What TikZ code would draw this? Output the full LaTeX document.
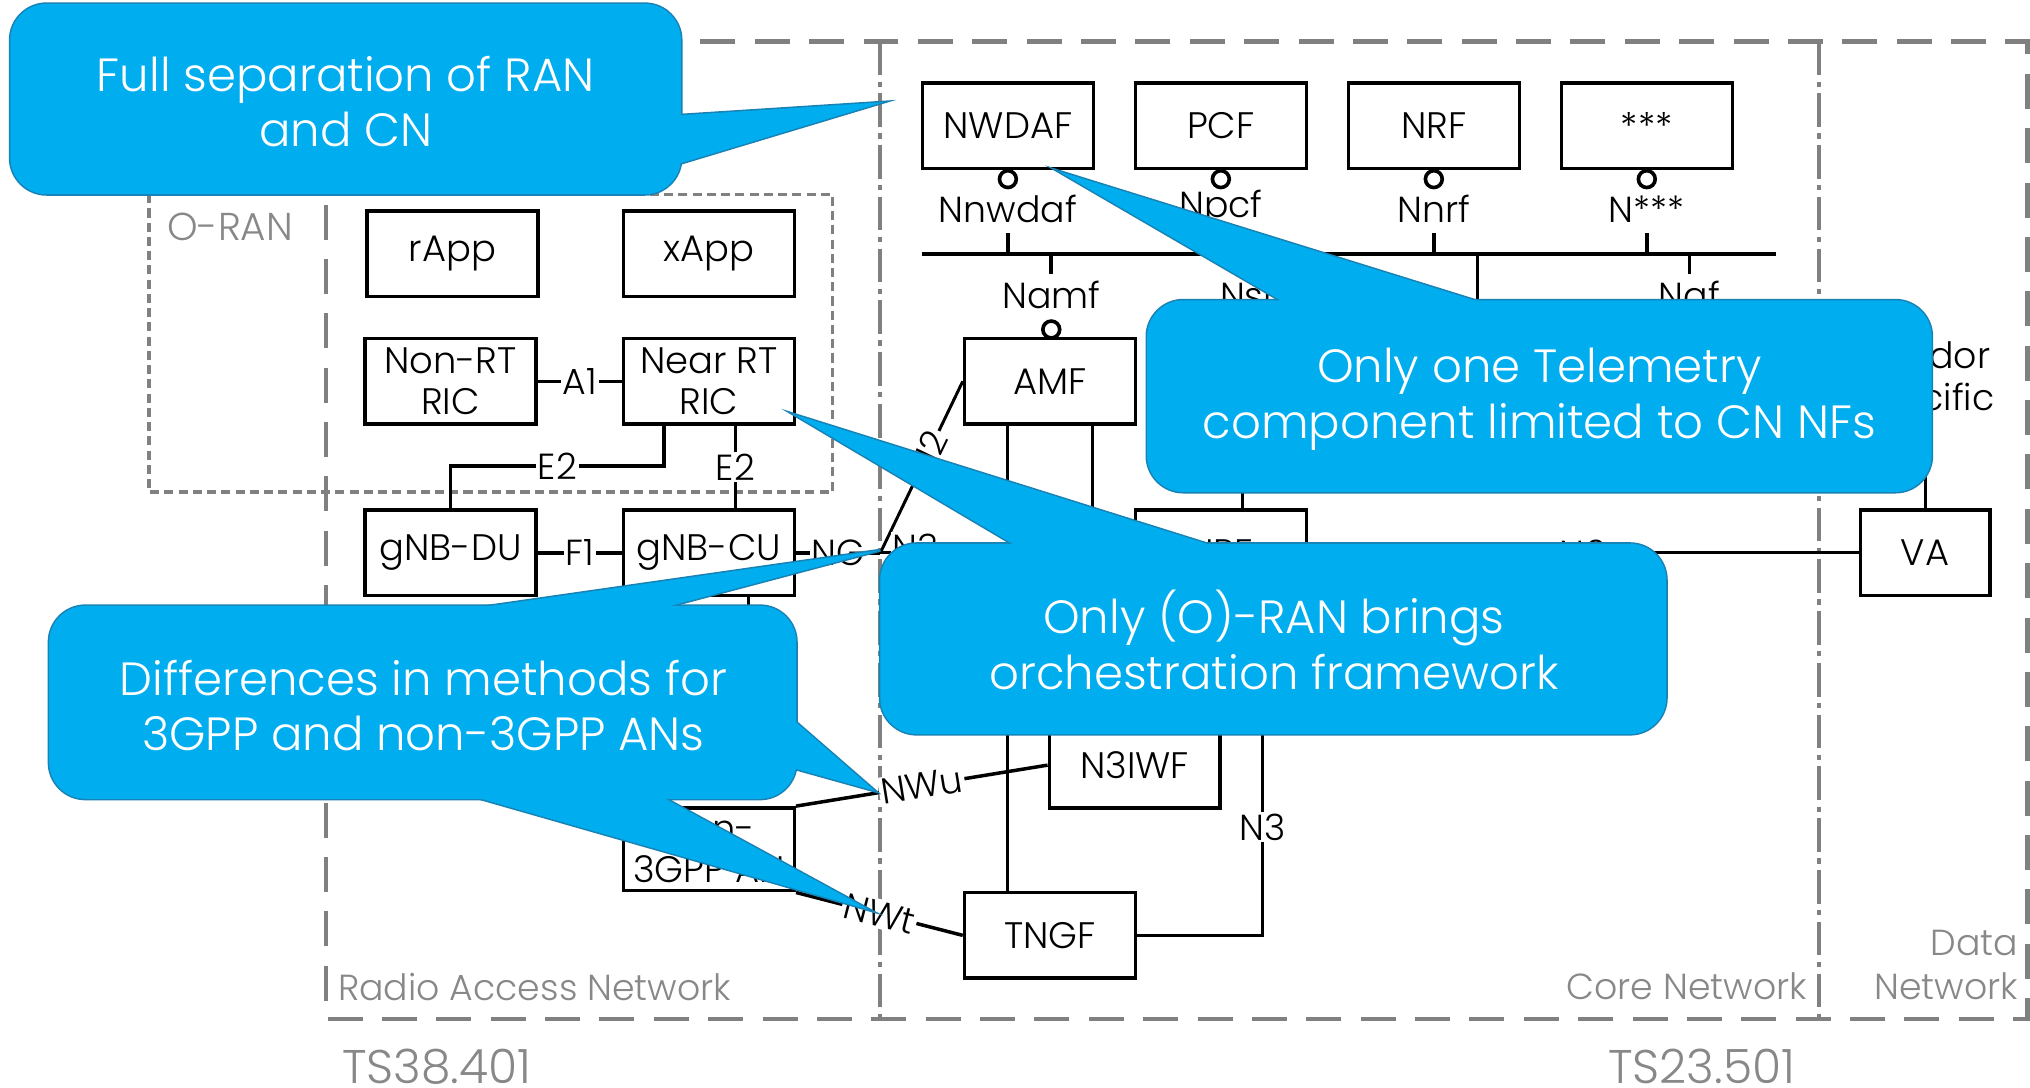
\documentclass[tikz,border=0pt]{standalone}
\usepackage{fontspec}
\setmainfont{Poppins Light}
\usetikzlibrary{calc}
\definecolor{callfill}{RGB}{0,173,239}
\definecolor{calledge}{RGB}{25,130,180}
\definecolor{framegray}{RGB}{128,128,128}
\definecolor{textgray}{RGB}{136,136,136}
\newcommand{\setfs}[2]{\fontsize{#1}{#2}\selectfont}
\begin{document}
\begin{tikzpicture}[x=1pt,y=-1pt,
  nf/.style={draw, line width=2.7pt, minimum width=132pt, minimum height=66pt, inner sep=0pt, align=center, fill=white, font=\setfs{28.5}{32}},
  lbl/.style={fill=white, inner sep=1.5pt, font=\setfs{28}{32}},
  ifl/.style={inner sep=1pt, align=center, font=\setfs{28}{32}},
  conn/.style={line width=2.7pt},
  thinconn/.style={line width=2.3pt},
  busline/.style={line width=3.4pt},
  tickline/.style={line width=2.8pt},
  lolly/.style={line width=2.8pt, fill=white},
  frameline/.style={draw=framegray, line width=3.3pt, dash pattern=on 27pt off 15pt},
  sepline/.style={draw=framegray, line width=3pt, dash pattern=on 26pt off 5pt on 4pt off 5pt},
  oranline/.style={draw=framegray, line width=2.6pt, dash pattern=on 7pt off 4pt},
  glbl/.style={text=textgray, inner sep=0pt, font=\setfs{28}{34}},
  tslbl/.style={text=textgray, inner sep=0pt, font=\setfs{36.5}{44}},
  cedge/.style={draw=calledge, line width=2.4pt, line join=miter},
  cfill/.style={fill=callfill},
  ctext/.style={text=white, align=center, font=\setfs{36}{43}}
]
\fill[white] (0,0) rectangle (1568,840);
\useasboundingbox (0,0) rectangle (1568,840);

% ---- domain frames ----
\draw[frameline] (252,32) rectangle (1566,787);
\draw[sepline] (680,32) -- (680,787);
\draw[sepline] (1405,32) -- (1405,787);
\draw[oranline] (115,150) rectangle (643,380);

\node[glbl, anchor=west, font=\setfs{30}{34}] (oranlbl) at (129,175) {O-RAN};
\node[glbl, anchor=west] (ranlbl) at (261,762) {Radio Access Network};
\node[glbl, anchor=east] (cnlbl) at (1396,762) {Core Network};
\node[glbl, anchor=east, align=right] (dnlbl) at (1559,745) {Data\\Network};
\node[tslbl, anchor=west] (ts1) at (264,824) {TS38.401};
\node[tslbl, anchor=west] (ts2) at (1242,824) {TS23.501};

% ---- network functions ----
\node[nf] (rapp) at (349.5,196) {rApp};
\node[nf] (xapp) at (547.5,196) {xApp};
\node[nf] (nonrt) at (348,294.5) {Non-RT\\RIC};
\node[nf] (nearrt) at (547.5,294.5) {Near RT\\RIC};
\node[nf] (du) at (348,427) {gNB-DU};
\node[nf] (cu) at (547.5,427) {gNB-CU};
\node[nf, minimum height=64pt] (n3gpp) at (547.5,656) {Non-\\3GPP AN};
\node[nf] (nwdaf) at (778.5,97) {NWDAF};
\node[nf] (pcf) at (943,97) {PCF};
\node[nf] (nrf) at (1107.5,97) {NRF};
\node[nf] (oth) at (1272,97) {***};
\node[nf] (amf) at (811,294.5) {AMF};
\node[nf] (upf) at (943,427) {UPF};
\node[nf] (n3iwf) at (876.5,591) {N3IWF};
\node[nf] (tngf) at (811,722.5) {TNGF};
\node[nf, minimum width=100pt] (va) at (1487,427) {VA};

% ---- service based bus ----
\coordinate (busL) at (712,196);
\coordinate (busR) at (1372,196);
\draw[busline] (busL) -- (busR);

\foreach \nfn/\lab in {nwdaf/Nnwdaf, pcf/Npcf, nrf/Nnrf, oth/N***}{
  \draw[lolly] ($(\nfn.south)+(0,7)$) circle (6.5pt);
  \node[ifl] (i\nfn) at ($(\nfn.south)+(0,30)$) {\lab};
  \draw[tickline] (i\nfn.south |- 0,180) -- (i\nfn.south |- busL);
}
\node[ifl] (iamf) at (812,228) {Namf};
\draw[tickline] (iamf.north |- busL) -- (iamf.north |- 0,212);
\draw[lolly] (812,254.5) circle (6.5pt);
\node[ifl] (ismf) at (978,228) {Nsmf};
\draw[tickline] (ismf.north |- busL) -- (ismf.north |- 0,212);
\node[ifl] (iaf) at (1305,228) {Naf};
\draw[tickline] (iaf.north |- busL) -- (iaf.north |- 0,212);

% ---- RAN interfaces ----
\draw[conn] (nonrt) -- node[lbl] {A1} (nearrt);
\draw[conn] (du) -- node[lbl] {F1} (cu);
\draw[conn] (nearrt.south -| 513,0) |- node[lbl, pos=0.75] {E2} (du.north |- 0,360) -- (du.north);
\draw[conn] (nearrt.south -| 568,0) -- node[lbl] {E2} (cu.north -| 568,0);
\draw[conn] (cu.south -| 578,0) -- (578,540);

\coordinate (ngj) at (680,427);
\draw[conn] (cu) -- node[lbl] {NG} (ngj);
\draw[thinconn] (ngj) -- node[lbl, sloped, pos=0.58] {N2} (amf.west);
\draw[thinconn] (ngj) -- node[lbl, pos=0.14, yshift=4pt] {N3} (upf);

% ---- core interfaces ----
\draw[thinconn] (amf.south -| 778,0) -- (tngf.north -| 778,0);
\draw[thinconn] (amf.south -| 844,0) -- (n3iwf.north -| 844,0);
\draw[thinconn] (tngf.east) -| node[lbl, pos=0.66] {N3} (upf.south -| 975,0);
\coordinate (smfs) at (960,330);
\draw[thinconn] (smfs) -- (upf.north -| smfs);
\draw[thinconn] (upf) -- node[lbl] {N6} (va);

\coordinate (busv) at (1141,196);
\node[ifl, fill=white] (vsp) at (1487,294) {Vendor\\specific};
\draw[thinconn] (busv) |- (vsp.west);
\draw[thinconn] (vsp) -- (va);

\draw[conn] (n3gpp.north east) -- node[lbl, sloped] {NWu} (n3iwf.west);
\draw[conn] (n3gpp.south east) -- node[lbl, sloped] {NWt} (tngf.west);

% ---- callouts ----
% 1: separation of RAN and CN
\coordinate (t1) at (682,79);
\draw[cedge, rounded corners=28pt] (8,3) rectangle (526,150);
\draw[cedge] ($(t1)!1.15!(526,89)$) -- (t1) -- ($(t1)!1.15!(526,126)$) -- cycle;
\fill[cfill, rounded corners=28pt] (8,3) rectangle (526,150);
\fill[cfill] ($(t1)!1.15!(526,89)$) -- (t1) -- ($(t1)!1.15!(526,126)$) -- cycle;
\node[ctext] (c1) at (267,78.5) {Full separation of RAN\\and CN};

% 2: telemetry
\coordinate (t2) at (817,132);
\draw[cedge, rounded corners=28pt] (886,232) rectangle (1492,380);
\draw[cedge] ($(t2)!1.15!(989,232)$) -- (t2) -- ($(t2)!1.15!(1139,232)$) -- cycle;
\fill[cfill, rounded corners=28pt] (886,232) rectangle (1492,380);
\fill[cfill] ($(t2)!1.15!(989,232)$) -- (t2) -- ($(t2)!1.15!(1139,232)$) -- cycle;
\node[ctext] (c2) at (1189,308.5) {Only one Telemetry\\component limited to CN NFs};

% 3: orchestration
\coordinate (t3) at (613,320);
\draw[cedge, rounded corners=28pt] (680,420) rectangle (1287,567);
\draw[cedge] ($(t3)!1.15!(782,420)$) -- (t3) -- ($(t3)!1.15!(932,420)$) -- cycle;
\fill[cfill, rounded corners=28pt] (680,420) rectangle (1287,567);
\fill[cfill] ($(t3)!1.15!(782,420)$) -- (t3) -- ($(t3)!1.15!(932,420)$) -- cycle;
\node[ctext] (c3) at (984,494.5) {Only (O)-RAN brings\\orchestration framework};

% 4: access network methods
\coordinate (t4a) at (680,425);
\coordinate (t4b) at (676,611);
\coordinate (t4c) at (672,703);
\draw[cedge, rounded corners=28pt] (38,468) rectangle (615,617);
\draw[cedge] ($(t4a)!1.25!(372,469)$) -- (t4a) -- ($(t4a)!1.25!(514,469)$) -- cycle;
\draw[cedge] ($(t4b)!1.25!(615,558)$) -- (t4b) -- ($(t4b)!1.25!(615,594)$) -- cycle;
\draw[cedge] ($(t4c)!1.25!(375,618)$) -- (t4c) -- ($(t4c)!1.25!(516,618)$) -- cycle;
\fill[cfill, rounded corners=28pt] (38,468) rectangle (615,617);
\fill[cfill] ($(t4a)!1.25!(372,469)$) -- (t4a) -- ($(t4a)!1.25!(514,469)$) -- cycle;
\fill[cfill] ($(t4b)!1.25!(615,558)$) -- (t4b) -- ($(t4b)!1.25!(615,594)$) -- cycle;
\fill[cfill] ($(t4c)!1.25!(375,618)$) -- (t4c) -- ($(t4c)!1.25!(516,618)$) -- cycle;
\node[ctext] (c4) at (327,545) {Differences in methods for\\3GPP and non-3GPP ANs};
\end{tikzpicture}
\end{document}
